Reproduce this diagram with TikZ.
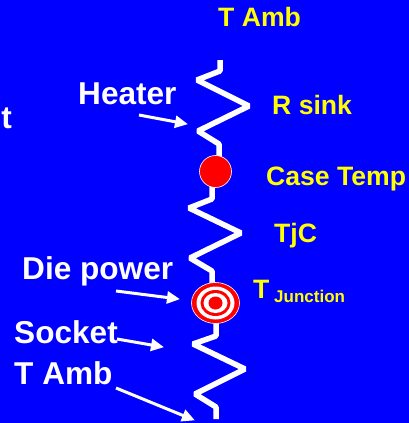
\documentclass[tikz,border=0pt]{standalone}
\usepackage{fontspec}
\setmainfont{Liberation Sans}
\usetikzlibrary{arrows.meta}
\definecolor{bgblue}{RGB}{0,0,255}
\definecolor{labyellow}{RGB}{255,255,0}
\definecolor{hotred}{RGB}{255,0,0}
\tikzset{
  x=1pt,y=-1pt,
  wire/.style={draw=white,line width=5.5pt,line join=bevel},
  pointer/.style={draw=white,line width=3pt,-{Triangle[length=13pt,width=12pt]},shorten >=-1pt},
  whitelab/.style={anchor=base west,inner sep=0pt,text=white,font=\fontsize{31.6}{32}\selectfont\bfseries},
  yellowlab/.style={anchor=base west,inner sep=0pt,text=labyellow,font=\fontsize{26.6}{27}\selectfont\bfseries},
}
\begin{document}
\begin{tikzpicture}
\useasboundingbox (0,0) rectangle (409,423);
\fill[bgblue] (0,0) rectangle (409,423);
% labels
\node[yellowlab] (tamba) at (218,26) {T Amb};
\node[yellowlab] (rsink) at (272,114) {R sink};
\node[yellowlab] (casetemp) at (266,185) {Case Temp};
\node[yellowlab] (tjc) at (274,242) {TjC};
\node[yellowlab] (tj) at (253,298) {T};
\node[anchor=base west,inner sep=0pt,text=labyellow,font=\fontsize{17}{17}\selectfont\bfseries] (junction) at (274,302) {Junction};
\node[whitelab] (heater) at (78,104) {Heater};
\node[whitelab,anchor=base east] (cutoff) at (12,128) {t};
\node[whitelab] (diepower) at (22,279) {Die power};
\node[whitelab] (socket) at (14,343) {Socket};
\node[whitelab] (tambb) at (14,384) {T Amb};
% wires
\coordinate (a0) at (220,60);
\coordinate (a1) at (220,71);
\coordinate (a2) at (197,80);
\coordinate (a3) at (249,106);
\coordinate (a4) at (198,131);
\coordinate (a5) at (219,144);
\coordinate (a6) at (219,158);
\draw[wire] (a0) -- (a1) -- (a2) -- (a3) -- (a4) -- (a5) -- (a6);
\coordinate (b0) at (212,185);
\coordinate (b1) at (212,199);
\coordinate (b2) at (189,208);
\coordinate (b3) at (241,233);
\coordinate (b4) at (190,258);
\coordinate (b5) at (212,271);
\coordinate (b6) at (212,286);
\draw[wire] (b0) -- (b1) -- (b2) -- (b3) -- (b4) -- (b5) -- (b6);
\coordinate (c0) at (216,320);
\coordinate (c1) at (216,336);
\coordinate (c2) at (193,344);
\coordinate (c3) at (245,369);
\coordinate (c4) at (195,394);
\coordinate (c5) at (216,407);
\coordinate (c6) at (216,419);
\draw[wire] (c0) -- (c1) -- (c2) -- (c3) -- (c4) -- (c5) -- (c6);
% case node
\node[circle,minimum size=32pt,inner sep=0pt,fill=hotred,draw=white,line width=0.6pt] (case) at (215.5,171.5) {};
% junction target
\coordinate (tc) at (215.5,303);
\draw[fill=hotred,draw=white,line width=0.6pt] (tc) ellipse [x radius=24,y radius=20.5];
\fill[white] (tc) ellipse [x radius=19,y radius=16.5];
\fill[hotred] (tc) ellipse [x radius=15,y radius=13];
\fill[white] (tc) ellipse [x radius=12,y radius=10];
\fill[hotred] (tc) ellipse [x radius=7,y radius=6.5];
% pointers
\coordinate (p1s) at (139,115);
\coordinate (p1e) at (187,124);
\coordinate (p2s) at (116,291);
\coordinate (p2e) at (179,299);
\coordinate (p3s) at (117,339);
\coordinate (p3e) at (163,347);
\coordinate (p4s) at (116,388);
\coordinate (p4e) at (194,420);
\draw[pointer] (p1s) -- (p1e);
\draw[pointer] (p2s) -- (p2e);
\draw[pointer] (p3s) -- (p3e);
\draw[pointer] (p4s) -- (p4e);
\end{tikzpicture}
\end{document}
